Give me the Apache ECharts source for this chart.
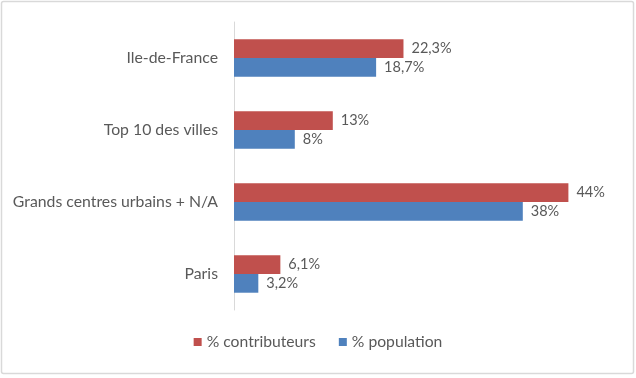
<!DOCTYPE html>
<html><head><meta charset="utf-8">
<script src="https://cdn.jsdelivr.net/npm/echarts@6/dist/echarts.min.js"></script>
<style>html,body{margin:0;padding:0;background:#fff;}#c{width:636px;height:378px;}</style>
</head><body><div id="c"></div>
<script>
const categories = ['Ile-de-France', 'Top 10 des villes', 'Grands centres urbains + N/A', 'Paris'];
const contributeurs = [22.3, 13, 44, 6.1];
const population = [18.7, 8, 38, 3.2];
const contribLabels = ['22,3%', '13%', '44%', '6,1%'];
const popLabels = ['18,7%', '8%', '38%', '3,2%'];

const chart = echarts.init(document.getElementById('c'));
const font = 'Lato';
const txt = '#595959';
chart.setOption({
  animation: false,
  textStyle: {fontFamily: font},
  graphic: [{type: 'rect', shape: {x: 1.5, y: 1.5, width: 632, height: 372, r: 2}, style: {fill: 'none', stroke: '#d9d9d9', lineWidth: 1.5}}],
  grid: {left: 234, right: 22, top: 22, bottom: 68},
  legend: {
    bottom: 23, left: 'center', itemWidth: 8, itemHeight: 8, itemGap: 23, icon: 'rect',
    textStyle: {color: txt, fontSize: 15.7, fontFamily: font}
  },
  xAxis: {type: 'value', min: 0, max: 50, show: false},
  yAxis: {
    type: 'category', data: categories, inverse: true,
    axisLine: {lineStyle: {color: '#d9d9d9'}},
    axisTick: {length: 6, lineStyle: {color: '#d9d9d9'}},
    axisLabel: {color: txt, fontSize: 15.8, margin: 16, fontFamily: font}
  },
  series: [
    {name: '% contributeurs', type: 'bar', data: contributeurs, itemStyle: {color: '#C0504D'}, barGap: '0%', barCategoryGap: '48%',
     label: {show: true, position: 'right', distance: 8, color: txt, fontSize: 14.5, fontFamily: font, formatter: p => contribLabels[p.dataIndex]}},
    {name: '% population', type: 'bar', data: population, itemStyle: {color: '#4F81BD'}, barGap: '0%', barCategoryGap: '48%',
     label: {show: true, position: 'right', distance: 8, color: txt, fontSize: 14.5, fontFamily: font, formatter: p => popLabels[p.dataIndex]}}
  ]
});
</script></body></html>
